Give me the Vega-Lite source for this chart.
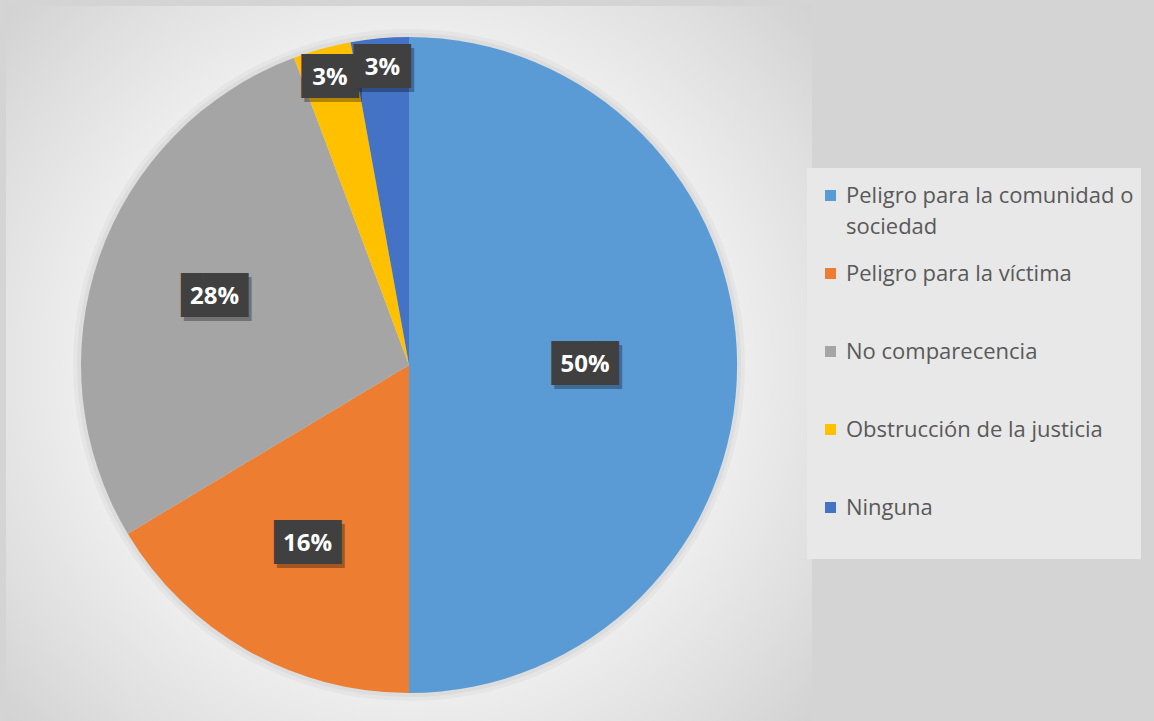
{
  "$schema": "https://vega.github.io/schema/vega-lite/v6.json",
  "autosize": {"type": "none"},
  "width": 806,
  "height": 718,
  "padding": {"left": 6, "top": 6, "right": 342, "bottom": 0},
  "background": "#d4d4d4",
  "view": {
    "stroke": null,
    "fill": {
      "gradient": "radial",
      "x1": 0.5, "y1": 0.5, "x2": 0.5, "y2": 0.5, "r1": 0, "r2": 0.75,
      "stops": [
        {"offset": 0, "color": "#f6f6f6"},
        {"offset": 0.54, "color": "#eeeeee"},
        {"offset": 0.75, "color": "#dedede"},
        {"offset": 1, "color": "#c9c9c9"}
      ]
    }
  },
  "data": {
    "values": [
      {"categoria": "Peligro para la comunidad o sociedad", "valor": 50, "orden": 1},
      {"categoria": "Peligro para la víctima", "valor": 16.4, "orden": 2},
      {"categoria": "No comparecencia", "valor": 27.9, "orden": 3},
      {"categoria": "Obstrucción de la justicia", "valor": 2.85, "orden": 4},
      {"categoria": "Ninguna", "valor": 2.85, "orden": 5}
    ]
  },
  "transform": [
    {"stack": "valor", "groupby": [], "sort": [{"field": "orden", "order": "ascending"}], "as": ["t0", "t1"]},
    {"joinaggregate": [{"op": "sum", "field": "valor", "as": "total"}]},
    {"calculate": "(datum.t0 + datum.t1) / 2", "as": "tm"},
    {"calculate": "datum.valor / datum.total", "as": "pct"}
  ],
  "config": {
    "style": {"guide-label": {"lineHeight": 31}}
  },
  "layer": [
    {
      "mark": {"type": "arc", "outerRadius": 336, "color": "#000000", "opacity": 0.03},
      "encoding": {
        "theta": {"field": "t0", "type": "quantitative", "scale": {"domain": [0, 100]}},
        "theta2": {"field": "t1"}
      }
    },
    {
      "mark": {"type": "arc", "outerRadius": 332, "color": "#000000", "opacity": 0.04},
      "encoding": {
        "theta": {"field": "t0", "type": "quantitative"},
        "theta2": {"field": "t1"}
      }
    },
    {
      "mark": {"type": "arc", "outerRadius": 328},
      "encoding": {
        "theta": {"field": "t0", "type": "quantitative"},
        "theta2": {"field": "t1"},
        "color": {
          "field": "categoria",
          "type": "nominal",
          "scale": {
            "domain": ["Peligro para la comunidad o sociedad", "Peligro para la víctima", "No comparecencia", "Obstrucción de la justicia", "Ninguna"],
            "range": ["#5B9BD5", "#ED7D31", "#A5A5A5", "#FFC000", "#4472C4"]
          },
          "legend": {
            "orient": "none",
            "legendX": 801,
            "legendY": 162,
            "title": null,
            "padding": 7,
            "rowPadding": 13,
            "fillColor": "#e8e8e8",
            "labelFont": "Open Sans",
            "labelFontSize": 22,
            "labelColor": "#595959",
            "labelLimit": 0,
            "labelBaseline": "top",
            "labelOffset": 10,
            "symbolType": "M0,0.8H2.2V3H0Z M0,0L0,10.8",
            "symbolSize": 100,
            "symbolStrokeWidth": 0,
            "symbolOpacity": 1,
            "labelExpr": "datum.label == 'Peligro para la comunidad o sociedad' ? ['Peligro para la comunidad o', 'sociedad'] : datum.label"
          }
        }
      }
    },
    {
      "transform": [{"filter": "datum.valor >= 40"}],
      "mark": {"type": "text", "radius": 176, "text": "███", "font": "DejaVu Sans Mono", "fontSize": 37, "align": "center", "baseline": "middle", "color": "#000000", "opacity": 0.3, "dx": 3, "dy": 4},
      "encoding": {"theta": {"field": "tm", "type": "quantitative"}}
    },
    {
      "transform": [{"filter": "datum.valor >= 40"}],
      "mark": {"type": "text", "radius": 176, "text": "███", "font": "DejaVu Sans Mono", "fontSize": 37, "align": "center", "baseline": "middle", "color": "#404040"},
      "encoding": {"theta": {"field": "tm", "type": "quantitative"}}
    },
    {
      "transform": [{"filter": "datum.valor >= 5 && datum.valor < 40"}],
      "mark": {"type": "text", "radius": 206, "text": "███", "font": "DejaVu Sans Mono", "fontSize": 37, "align": "center", "baseline": "middle", "color": "#000000", "opacity": 0.3, "dx": 3, "dy": 4},
      "encoding": {"theta": {"field": "tm", "type": "quantitative"}}
    },
    {
      "transform": [{"filter": "datum.valor >= 5 && datum.valor < 40"}],
      "mark": {"type": "text", "radius": 206, "text": "███", "font": "DejaVu Sans Mono", "fontSize": 37, "align": "center", "baseline": "middle", "color": "#404040"},
      "encoding": {"theta": {"field": "tm", "type": "quantitative"}}
    },
    {
      "transform": [{"filter": "datum.valor < 5"}],
      "mark": {"type": "text", "radius": 298, "text": "██", "font": "DejaVu Sans", "fontSize": 37, "align": "center", "baseline": "middle", "color": "#000000", "opacity": 0.3, "dx": 3, "dy": 4},
      "encoding": {"theta": {"field": "tm", "type": "quantitative"}}
    },
    {
      "transform": [{"filter": "datum.valor < 5"}],
      "mark": {"type": "text", "radius": 298, "text": "██", "font": "DejaVu Sans", "fontSize": 37, "align": "center", "baseline": "middle", "color": "#404040"},
      "encoding": {"theta": {"field": "tm", "type": "quantitative"}}
    },
    {
      "transform": [{"filter": "datum.valor >= 40"}],
      "mark": {"type": "text", "radius": 176, "font": "Open Sans", "fontSize": 24, "fontWeight": "bold", "align": "center", "baseline": "middle", "color": "#ffffff"},
      "encoding": {
        "theta": {"field": "tm", "type": "quantitative"},
        "text": {"field": "pct", "type": "quantitative", "format": ".0%"}
      }
    },
    {
      "transform": [{"filter": "datum.valor >= 5 && datum.valor < 40"}],
      "mark": {"type": "text", "radius": 206, "font": "Open Sans", "fontSize": 24, "fontWeight": "bold", "align": "center", "baseline": "middle", "color": "#ffffff"},
      "encoding": {
        "theta": {"field": "tm", "type": "quantitative"},
        "text": {"field": "pct", "type": "quantitative", "format": ".0%"}
      }
    },
    {
      "transform": [{"filter": "datum.valor < 5"}],
      "mark": {"type": "text", "radius": 298, "font": "Open Sans", "fontSize": 24, "fontWeight": "bold", "align": "center", "baseline": "middle", "color": "#ffffff"},
      "encoding": {
        "theta": {"field": "tm", "type": "quantitative"},
        "text": {"field": "pct", "type": "quantitative", "format": ".0%"}
      }
    }
  ]
}
